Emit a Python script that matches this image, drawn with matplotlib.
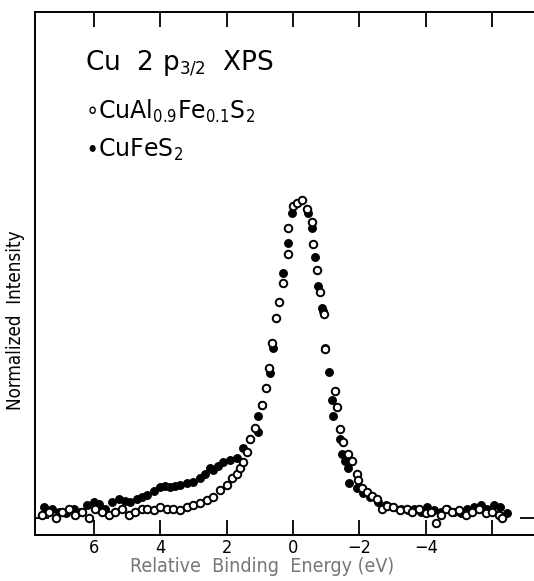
import numpy as np
import matplotlib
matplotlib.use("Agg")
import matplotlib.pyplot as plt

plt.rcParams['font.family'] = ['DejaVu Sans']
plt.rcParams['font.stretch'] = 'condensed'
plt.rcParams['mathtext.fontset'] = 'dejavusans'

# --- CuAl0.9Fe0.1S2 (open circles) ---
e_open = [7.55, 7.35, 7.15, 6.95, 6.75, 6.55, 6.35, 6.15, 5.95, 5.75, 5.55, 5.35,
          5.15, 4.95, 4.75, 4.55, 4.40, 4.20, 4.00, 3.80, 3.61, 3.40, 3.19, 3.01,
          2.80, 2.59, 2.41, 2.20, 1.99, 1.84, 1.70, 1.60, 1.51, 1.39, 1.30, 1.14,
          0.93, 0.81, 0.72, 0.63, 0.51, 0.42, 0.30, 0.15, 0.15, 0.00, -0.12, -0.27,
          -0.42, -0.57, -0.60, -0.72, -0.81, -0.93, -0.96, -1.27, -1.33, -1.42, -1.51,
          -1.66, -1.78, -1.93, -1.96, -2.08, -2.23, -2.38, -2.53, -2.68, -2.83, -3.01,
          -3.22, -3.43, -3.60, -3.80, -4.00, -4.15, -4.30, -4.45, -4.60, -4.80, -5.00,
          -5.20, -5.40, -5.60, -5.80, -6.00, -6.20, -6.30]
i_open = [0.01, 0.02, 0.00, 0.02, 0.03, 0.01, 0.02, 0.00, 0.03, 0.02, 0.01, 0.02,
          0.03, 0.01, 0.02, 0.03, 0.03, 0.025, 0.035, 0.03, 0.03, 0.025, 0.035, 0.04,
          0.047, 0.057, 0.066, 0.088, 0.104, 0.126, 0.14, 0.157, 0.176, 0.208, 0.25, 0.283,
          0.355, 0.41, 0.47, 0.55, 0.63, 0.68, 0.74, 0.83, 0.91, 0.98, 0.99, 1.0,
          0.97, 0.93, 0.86, 0.78, 0.71, 0.64, 0.53, 0.40, 0.35, 0.28, 0.24,
          0.20, 0.18, 0.14, 0.12, 0.094, 0.082, 0.07, 0.06, 0.03, 0.038, 0.035,
          0.025, 0.03, 0.02, 0.03, 0.015, 0.02, -0.015, 0.01, 0.03, 0.02, 0.025,
          0.01, 0.02, 0.03, 0.015, 0.02, 0.01, 0.0]

# --- CuFeS2 (filled circles) ---
e_fill = [7.50, 7.25, 7.05, 6.85, 6.60, 6.40, 6.20, 6.00, 5.85, 5.65, 5.45, 5.25,
          5.05, 4.91, 4.70, 4.55, 4.40, 4.20, 4.00, 3.85, 3.70, 3.55, 3.40, 3.20,
          3.01, 2.80, 2.65, 2.50, 2.41, 2.25, 2.11, 1.90, 1.69, 1.51, 1.30, 1.05,
          1.05, 0.93, 0.69, 0.60, 0.30, 0.15, 0.03, -0.45, -0.57, -0.66, -0.75,
          -0.87, -0.90, -0.96, -1.08, -1.17, -1.20, -1.42, -1.48, -1.57, -1.66, -1.69,
          -1.93, -2.10, -2.32, -2.55, -2.80, -3.00, -3.25, -3.45, -3.65, -3.85, -4.05,
          -4.25, -4.45, -4.65, -4.85, -5.05, -5.25, -5.45, -5.65, -5.85, -6.05, -6.25, -6.45]
i_fill = [0.035, 0.03, 0.02, 0.015, 0.03, 0.02, 0.04, 0.05, 0.045, 0.03, 0.05, 0.06,
          0.055, 0.05, 0.06, 0.065, 0.072, 0.085, 0.097, 0.10, 0.097, 0.10, 0.104, 0.11,
          0.113, 0.126, 0.14, 0.157, 0.151, 0.165, 0.176, 0.182, 0.19, 0.22, 0.25, 0.27,
          0.32, 0.355, 0.456, 0.535, 0.77, 0.865, 0.96, 0.96, 0.91, 0.82, 0.73,
          0.66, 0.65, 0.535, 0.46, 0.37, 0.32, 0.25, 0.20, 0.18, 0.157, 0.11,
          0.094, 0.08, 0.066, 0.05, 0.04, 0.035, 0.03, 0.025, 0.03, 0.02, 0.035,
          0.025, 0.02, 0.03, 0.02, 0.015, 0.03, 0.035, 0.04, 0.03, 0.04, 0.035, 0.016]

x_ticks = [6, 4, 2, 0, -2, -4, -6]
x_tick_labels = ['6', '4', '2', '0', '\u22122', '\u22124', '']

fig = plt.figure(figsize=(5.34, 5.81), dpi=100)
ax = fig.add_axes([0.0655, 0.0792, 0.9345, 0.9002])

ax.plot(e_fill, i_fill, 'o', ms=5.4, mfc='black', mec='black', mew=1.0, zorder=2)
ax.plot(e_open, i_open, 'o', ms=5.4, mfc='white', mec='black', mew=1.4, zorder=3)

ax.set_xlim(7.77, -7.26)
ax.set_ylim(-0.053, 1.59)

ax.set_xticks(x_ticks)
ax.set_xticklabels(x_tick_labels)
ax.set_yticks([0])
ax.set_yticklabels([])
ax.tick_params(axis='x', direction='in', top=True, bottom=True, length=11,
               width=1.3, labelsize=13, pad=3)
ax.tick_params(axis='y', direction='in', left=True, right=True, length=10, width=1.3)

ax.spines['right'].set_visible(False)
for s in ['left', 'top', 'bottom']:
    ax.spines[s].set_linewidth(1.4)

ax.set_xlabel('Relative  Binding  Energy (eV)', fontsize=14, color='#777777')
ax.xaxis.set_label_coords(0.455, -0.043)
ax.set_ylabel('Normalized  Intensity', fontsize=13.5)
ax.yaxis.set_label_coords(-0.02, 0.41)

# in-plot annotation: line label and marker key
ax.text(0.10, 0.902, r'Cu  2 p$_{3/2}$  XPS', transform=ax.transAxes,
        fontsize=19, va='center', ha='left', fontstretch='normal')
ax.text(0.10, 0.809, r'$\circ$CuAl$_{0.9}$Fe$_{0.1}$S$_2$', transform=ax.transAxes,
        fontsize=17, va='center', ha='left', fontstretch='normal')
ax.text(0.10, 0.736, r'$\bullet$CuFeS$_2$', transform=ax.transAxes,
        fontsize=17, va='center', ha='left', fontstretch='normal')

fig.savefig('out.png', dpi=100)
